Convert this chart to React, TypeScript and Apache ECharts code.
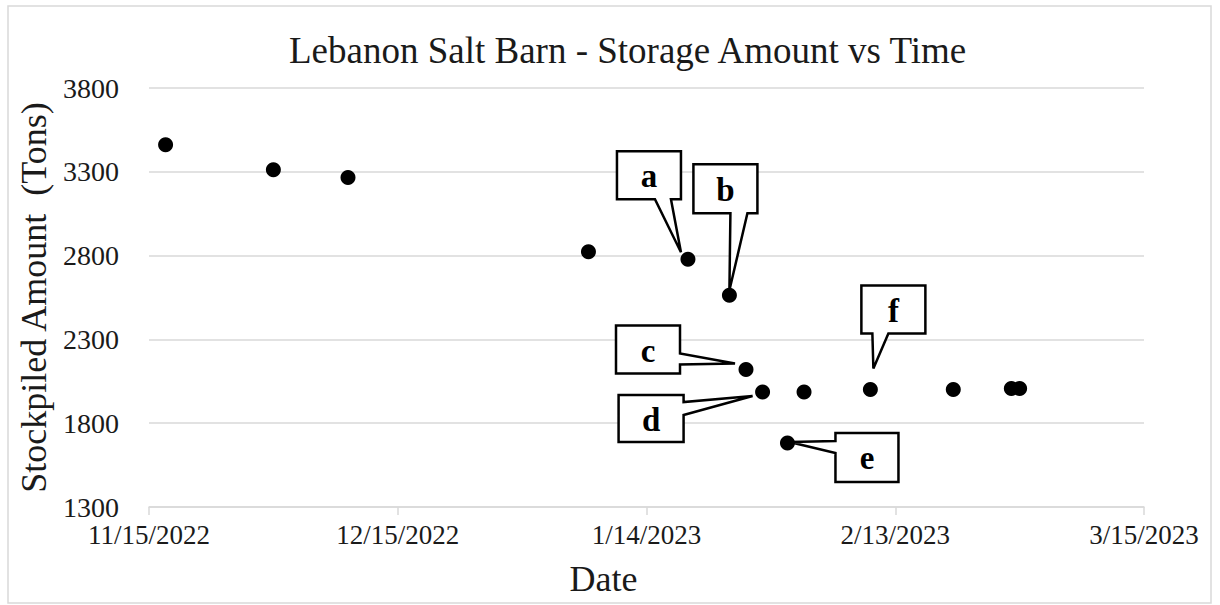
import React, { useEffect, useRef } from "react";
import * as echarts from "echarts";

const START_DATE = "2022-11-15";
const X_MAX_DAYS = 120;
const X_INTERVAL_DAYS = 30;
const Y_MIN = 1300;
const Y_MAX = 3800;
const Y_INTERVAL = 500;

const dates = [
  "2022-11-17", "2022-11-30", "2022-12-09", "2023-01-07", "2023-01-19",
  "2023-01-24", "2023-01-26", "2023-01-28", "2023-01-31", "2023-02-02",
  "2023-02-10", "2023-02-20", "2023-02-27", "2023-02-28",
];
const amounts = [
  3461, 3312, 3266, 2823, 2778,
  2563, 2120, 1986, 1682, 1986,
  2001, 2001, 2007, 2007,
];

// callout letters and the date of the point they mark
const calloutLabels = ["a", "b", "c", "d", "e", "f"];
const calloutDates = ["2023-01-19", "2023-01-24", "2023-01-26", "2023-01-28", "2023-01-31", "2023-02-10"];

// layout of each callout relative to its point (pixels)
const calloutLayout: Record<string, any> = {
  a: { box: [-71, -108, 64, 48], edge: "bottom", base: [38, 54], tip: [-7, -7] },
  b: { box: [-36, -131, 64, 49], edge: "bottom", base: [37, 54], tip: [0, -5] },
  c: { box: [-130, -44, 64, 48], edge: "right", base: [28, 39], tip: [-11, -6] },
  d: { box: [-144, 3, 65, 47], edge: "right", base: [7, 20], tip: [-10, 4] },
  e: { box: [48, -10, 63, 49], edge: "left", base: [8, 20], tip: [2, -1] },
  f: { box: [-9, -104, 64, 48], edge: "bottom", base: [11, 27], tip: [3, -21] },
};

const DAY = 86400000;
const toUTC = (s: string) => {
  const [y, m, d] = s.split("-").map(Number);
  return Date.UTC(y, m - 1, d);
};
const startMs = toUTC(START_DATE);
const dayOffset = (s: string) => Math.round((toUTC(s) - startMs) / DAY);
const fmtDay = (v: number) => {
  const dt = new Date(startMs + v * DAY);
  return `${dt.getUTCMonth() + 1}/${dt.getUTCDate()}/${dt.getUTCFullYear()}`;
};

const FONT = "'Liberation Serif', 'Times New Roman', serif";

export default function App() {
  const ref = useRef<HTMLDivElement>(null);
  useEffect(() => {
    document.body.style.margin = "0";
    const chart = echarts.init(ref.current!, null, { renderer: "svg" });
    const data = dates.map((d, i) => [dayOffset(d), amounts[i]]);
    chart.setOption({
      animation: false,
      backgroundColor: "#ffffff",
      title: {
        text: "Lebanon Salt Barn - Storage Amount vs Time",
        left: 284,
        top: 27,
        textStyle: { fontFamily: FONT, fontSize: 37, fontWeight: "normal", color: "#1a1a1a" },
      },
      grid: { left: 149, right: 76, top: 88, bottom: 98, containLabel: false },
      xAxis: {
        type: "value",
        min: 0,
        max: X_MAX_DAYS,
        interval: X_INTERVAL_DAYS,
        name: "Date",
        nameLocation: "middle",
        nameGap: 54,
        nameTextStyle: { fontFamily: FONT, fontSize: 36, color: "#1a1a1a", padding: [0, 86, 0, 0] },
        axisLine: { show: true, lineStyle: { color: "#d9d9d9", width: 1.5 } },
        axisTick: { show: true, length: 8, lineStyle: { color: "#d9d9d9", width: 1.5 } },
        splitLine: { show: false },
        axisLabel: { formatter: fmtDay, fontFamily: FONT, fontSize: 27, color: "#1a1a1a", margin: 14 },
      },
      yAxis: {
        type: "value",
        min: Y_MIN,
        max: Y_MAX,
        interval: Y_INTERVAL,
        name: "Stockpiled Amount  (Tons)",
        nameLocation: "middle",
        nameGap: 89,
        nameTextStyle: { fontFamily: FONT, fontSize: 36, color: "#1a1a1a" },
        axisLine: { show: false },
        axisTick: { show: false },
        splitLine: { lineStyle: { color: "#d9d9d9", width: 1.5 } },
        axisLabel: {
          formatter: (v: number) => String(v),
          fontFamily: FONT,
          fontSize: 28,
          color: "#1a1a1a",
          margin: 30,
        },
      },
      series: [
        {
          type: "scatter",
          data,
          symbol: "circle",
          symbolSize: 15,
          itemStyle: { color: "#000000", opacity: 1 },
          z: 3,
        },
      ],
    });

    const elements: any[] = [
      {
        type: "rect",
        shape: { x: 8, y: 6, width: 1203, height: 597 },
        style: { fill: "none", stroke: "#d9d9d9", lineWidth: 1.5 },
        z: 0,
        silent: true,
      },
    ];
    calloutLabels.forEach((lab, i) => {
      const L = calloutLayout[lab];
      const p = chart.convertToPixel({ gridIndex: 0 }, [dayOffset(calloutDates[i]), amounts[dates.indexOf(calloutDates[i])]]) as number[];
      const x = p[0] + L.box[0];
      const y = p[1] + L.box[1];
      const w = L.box[2];
      const h = L.box[3];
      const tx = p[0] + L.tip[0];
      const ty = p[1] + L.tip[1];
      let pts: number[][];
      if (L.edge === "bottom") {
        pts = [[x, y], [x + w, y], [x + w, y + h], [x + L.base[1], y + h], [tx, ty], [x + L.base[0], y + h], [x, y + h]];
      } else if (L.edge === "right") {
        pts = [[x, y], [x + w, y], [x + w, y + L.base[0]], [tx, ty], [x + w, y + L.base[1]], [x + w, y + h], [x, y + h]];
      } else {
        pts = [[x, y], [x + w, y], [x + w, y + h], [x, y + h], [x, y + L.base[1]], [tx, ty], [x, y + L.base[0]]];
      }
      elements.push({
        type: "polygon",
        shape: { points: pts },
        style: { fill: "#ffffff", stroke: "#000000", lineWidth: 2.5 },
        z: 2,
      });
      elements.push({
        type: "text",
        x: x + w / 2,
        y: y + h / 2 + 1,
        style: {
          text: lab,
          fontFamily: FONT,
          fontSize: 33,
          fontWeight: "bold",
          fill: "#000000",
          align: "center",
          verticalAlign: "middle",
        },
        z: 2,
      });
    });
    chart.setOption({ graphic: { elements } });
    return () => chart.dispose();
  }, []);
  return <div ref={ref} style={{ width: 1220, height: 605 }} />;
}
